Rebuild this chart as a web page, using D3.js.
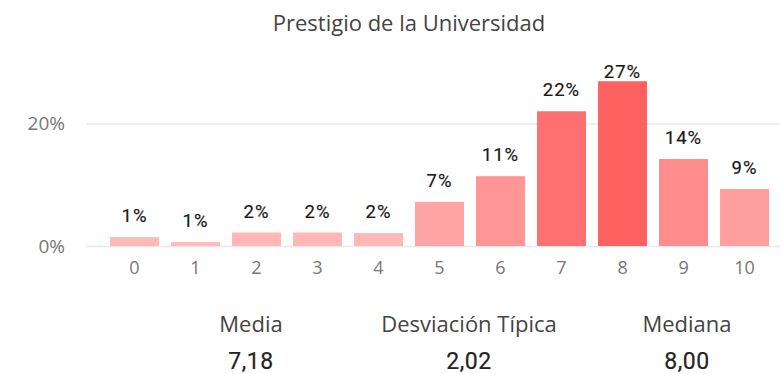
<!DOCTYPE html>
<html>
<head>
<meta charset="utf-8">
<script src="https://cdn.jsdelivr.net/npm/d3@7"></script>
<style>
  html, body { margin: 0; padding: 0; background: #fff; }
  svg { display: block; }
</style>
</head>
<body>
<svg id="chart" width="782" height="374"></svg>
<script>
// Score distribution (share of responses per score 0–10)
const categories = ["0", "1", "2", "3", "4", "5", "6", "7", "8", "9", "10"];
const shares = [0.0145, 0.0065, 0.022, 0.022, 0.021, 0.072, 0.114, 0.220, 0.269, 0.142, 0.093];
const yTicks = [0, 0.2];

// Summary statistics shown below the chart
const statLabels = ["Media", "Desviación Típica", "Mediana"];
const statValues = ["7,18", "2,02", "8,00"];

const title = "Prestigio de la Universidad";

const svg = d3.select("#chart");

const x = d3.scaleBand()
  .domain(categories)
  .range([104, 775])
  .paddingInner(0.197)
  .paddingOuter(0.098);

const y = d3.scaleLinear()
  .domain([0, 0.30])
  .range([246, 62.25]);

const color = d3.scaleLinear()
  .domain([d3.min(shares), d3.max(shares)])
  .range(["#ffbcbc", "#ff6060"]);

// Title
svg.append("text")
  .attr("x", 409)
  .attr("y", 31)
  .attr("text-anchor", "middle")
  .attr("font-family", "'Open Sans', sans-serif")
  .attr("font-size", 22)
  .attr("fill", "#444")
  .text(title);

// Gridlines + y labels
const yAxis = svg.append("g").attr("transform", "translate(86,0)")
  .call(d3.axisLeft(y).tickValues(yTicks).tickFormat(d3.format(".0%")).tickSize(-694).tickPadding(21));
yAxis.select(".domain").remove();
yAxis.selectAll(".tick line").attr("stroke", "#e8e8e8").attr("stroke-width", 1.5);
yAxis.selectAll(".tick text")
  .attr("font-family", "'Open Sans', sans-serif")
  .attr("font-size", 19)
  .attr("fill", "#777");

// Bars
svg.append("g").selectAll("rect")
  .data(shares)
  .join("rect")
  .attr("x", (d, i) => x(categories[i]))
  .attr("y", d => y(d))
  .attr("width", x.bandwidth())
  .attr("height", d => y(0) - y(d))
  .attr("fill", d => color(d));

// Value labels above the bars
svg.append("g").selectAll("text")
  .data(shares)
  .join("text")
  .attr("x", (d, i) => x(categories[i]) + x.bandwidth() / 2)
  .attr("y", d => Math.max(y(d) - 15, 78))
  .attr("text-anchor", "middle")
  .attr("font-family", "Roboto, sans-serif")
  .attr("font-weight", 400)
  .attr("font-size", 18.5)
  .attr("letter-spacing", "1px")
  .attr("fill", "#1a1a1a")
  .attr("stroke", "#1a1a1a")
  .attr("stroke-width", 0.2)
  .text(d => d3.format(".0%")(d));

// X axis labels
const xAxis = svg.append("g").attr("transform", "translate(0,246)")
  .call(d3.axisBottom(x).tickSize(0).tickPadding(15));
xAxis.select(".domain").remove();
xAxis.selectAll(".tick text")
  .attr("font-family", "'Open Sans', sans-serif")
  .attr("font-size", 18)
  .attr("fill", "#777");

// Summary cards
const statX = d3.scalePoint().domain(statLabels).range([251, 687]);
const cards = svg.append("g").selectAll("g")
  .data(statLabels)
  .join("g")
  .attr("transform", d => `translate(${statX(d)},0)`);

cards.append("text")
  .attr("y", 332)
  .attr("text-anchor", "middle")
  .attr("font-family", "'Open Sans', sans-serif")
  .attr("font-size", 22)
  .attr("fill", "#444")
  .text(d => d);

cards.append("text")
  .attr("y", 369)
  .attr("text-anchor", "middle")
  .attr("font-family", "Roboto, sans-serif")
  .attr("font-weight", 400)
  .attr("font-size", 23)
  .attr("letter-spacing", "0.5px")
  .attr("fill", "#252423")
  .attr("stroke", "#252423")
  .attr("stroke-width", 0.2)
  .text((d, i) => statValues[i]);
</script>
</body>
</html>
